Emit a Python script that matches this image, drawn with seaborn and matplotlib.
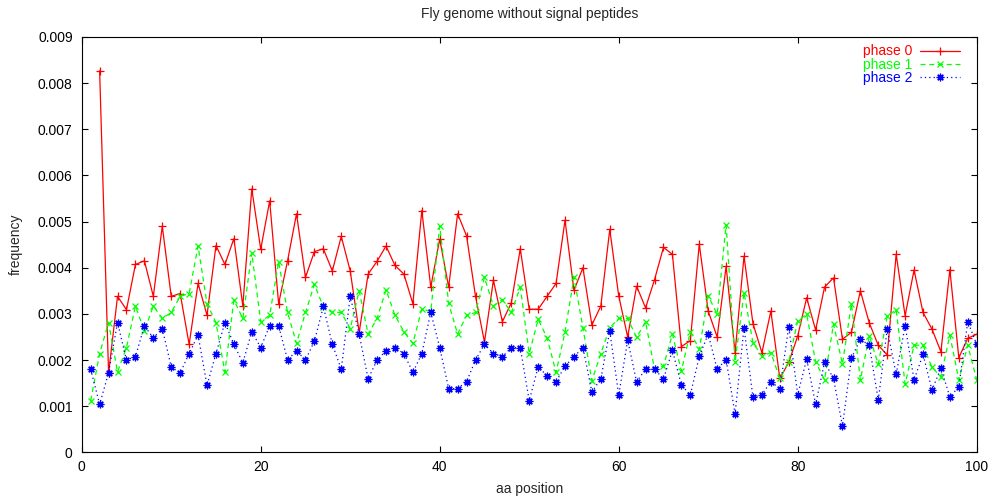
import numpy as np
import pandas as pd
import matplotlib
matplotlib.use("Agg")
import matplotlib.pyplot as plt
import seaborn as sns
from matplotlib.ticker import FuncFormatter, MultipleLocator

# amino-acid positions 1..100
positions = list(range(1, 101))

# codon-phase frequencies per position (phase 0 has no value at position 1)
phase0 = [np.nan, 0.00827, 0.00171, 0.00338, 0.00309, 0.00407, 0.00415, 0.00338, 0.00490, 0.00338,
          0.00344, 0.00234, 0.00366, 0.00297, 0.00448, 0.00407, 0.00463, 0.00317, 0.00571, 0.00440,
          0.00545, 0.00322, 0.00415, 0.00517, 0.00379, 0.00435, 0.00441, 0.00393, 0.00468, 0.00393,
          0.00260, 0.00386, 0.00414, 0.00447, 0.00405, 0.00386, 0.00322, 0.00524, 0.00358, 0.00462,
          0.00358, 0.00517, 0.00469, 0.00338, 0.00239, 0.00373, 0.00283, 0.00324, 0.00441, 0.00310,
          0.00310, 0.00338, 0.00366, 0.00503, 0.00351, 0.00400, 0.00276, 0.00317, 0.00483, 0.00339,
          0.00250, 0.00360, 0.00313, 0.00374, 0.00444, 0.00429, 0.00229, 0.00242, 0.00451, 0.00306,
          0.00250, 0.00403, 0.00216, 0.00425, 0.00279, 0.00216, 0.00306, 0.00160, 0.00195, 0.00252,
          0.00335, 0.00265, 0.00358, 0.00378, 0.00245, 0.00260, 0.00350, 0.00280, 0.00232, 0.00211,
          0.00429, 0.00296, 0.00395, 0.00303, 0.00267, 0.00218, 0.00396, 0.00205, 0.00247, 0.00256]

phase1 = [0.00112, 0.00214, 0.00281, 0.00174, 0.00227, 0.00317, 0.00263, 0.00317, 0.00290, 0.00303,
          0.00338, 0.00344, 0.00447, 0.00322, 0.00281, 0.00174, 0.00330, 0.00290, 0.00432, 0.00283,
          0.00297, 0.00413, 0.00303, 0.00236, 0.00303, 0.00364, 0.00315, 0.00303, 0.00303, 0.00268,
          0.00350, 0.00256, 0.00290, 0.00352, 0.00297, 0.00261, 0.00236, 0.00311, 0.00305, 0.00490,
          0.00323, 0.00256, 0.00297, 0.00303, 0.00379, 0.00317, 0.00331, 0.00303, 0.00358, 0.00214,
          0.00288, 0.00248, 0.00173, 0.00261, 0.00379, 0.00270, 0.00155, 0.00214, 0.00270, 0.00290,
          0.00290, 0.00249, 0.00283, 0.00180, 0.00187, 0.00256, 0.00176, 0.00261, 0.00223, 0.00339,
          0.00299, 0.00493, 0.00196, 0.00346, 0.00237, 0.00209, 0.00216, 0.00160, 0.00196, 0.00285,
          0.00299, 0.00196, 0.00157, 0.00278, 0.00191, 0.00322, 0.00157, 0.00252, 0.00191, 0.00295,
          0.00309, 0.00148, 0.00232, 0.00232, 0.00184, 0.00164, 0.00254, 0.00157, 0.00232, 0.00157]

phase2 = [0.00180, 0.00104, 0.00172, 0.00281, 0.00200, 0.00207, 0.00274, 0.00248, 0.00268, 0.00185,
          0.00172, 0.00214, 0.00254, 0.00145, 0.00214, 0.00281, 0.00234, 0.00194, 0.00261, 0.00227,
          0.00274, 0.00274, 0.00200, 0.00220, 0.00200, 0.00241, 0.00316, 0.00234, 0.00180, 0.00338,
          0.00256, 0.00159, 0.00200, 0.00220, 0.00227, 0.00214, 0.00173, 0.00214, 0.00303, 0.00227,
          0.00138, 0.00138, 0.00153, 0.00200, 0.00234, 0.00214, 0.00207, 0.00227, 0.00227, 0.00112,
          0.00185, 0.00166, 0.00153, 0.00187, 0.00207, 0.00227, 0.00131, 0.00159, 0.00263, 0.00124,
          0.00243, 0.00153, 0.00180, 0.00180, 0.00159, 0.00221, 0.00146, 0.00124, 0.00208, 0.00256,
          0.00180, 0.00201, 0.00083, 0.00270, 0.00119, 0.00125, 0.00153, 0.00138, 0.00272, 0.00125,
          0.00202, 0.00104, 0.00195, 0.00160, 0.00057, 0.00204, 0.00245, 0.00232, 0.00113, 0.00267,
          0.00169, 0.00274, 0.00157, 0.00212, 0.00135, 0.00182, 0.00120, 0.00142, 0.00283, 0.00234]

series_labels = ["phase 0", "phase 1", "phase 2"]
x_ticks = [0, 20, 40, 60, 80, 100]

sns.set_theme(style="white")
plt.rcParams["font.family"] = ["Liberation Sans", "DejaVu Sans"]

FS = 10

fig = plt.figure(figsize=(9.93, 5.0), dpi=100)
ax = fig.add_axes([0.0823, 0.0954, 0.9013, 0.8306])

styles = [
    dict(color="#ff0000", linestyle="-", marker="+", markersize=5.5),
    dict(color="#00ff00", linestyle=(0, (4, 3)), marker="x", markersize=4.5),
    dict(color="#0000ff", linestyle=(0, (1, 2.5)), marker=(8, 2, 0), markersize=5.5),
]

for values, label, st in zip([phase0, phase1, phase2], series_labels, styles):
    df = pd.DataFrame({"position": positions, "frequency": values})
    sns.lineplot(data=df, x="position", y="frequency", ax=ax, label=label,
                 color=st["color"], linestyle=st["linestyle"], linewidth=0.9,
                 marker=st["marker"], markersize=st["markersize"],
                 markeredgecolor=st["color"], markeredgewidth=0.9)

ax.set_xlim(0, 100)
ax.set_ylim(0, 0.009)
ax.set_xticks(x_ticks)
ax.yaxis.set_major_locator(MultipleLocator(0.001))
ax.yaxis.set_major_formatter(FuncFormatter(lambda v, _: "0" if abs(v) < 1e-12 else f"{v:.3f}"))

ax.tick_params(axis="both", which="major", direction="in", length=4.5, width=0.8,
               top=True, right=True, bottom=True, left=True,
               labelsize=FS, colors="black")
ax.tick_params(axis="x", pad=5.5)
ax.tick_params(axis="y", pad=6.5)

for sp in ax.spines.values():
    sp.set_visible(True)
    sp.set_color("black")
    sp.set_linewidth(0.8)

ax.set_title("Fly genome without signal peptides", fontsize=FS, pad=14)
ax.set_xlabel("aa position", fontsize=FS)
ax.set_ylabel("frequency", fontsize=FS)
ax.xaxis.set_label_coords(0.5, -0.072)
ax.yaxis.set_label_coords(-0.0656, 0.5)
ax.grid(False)

ax.legend(loc="upper right", bbox_to_anchor=(0.9813, 0.982), frameon=False,
          markerfirst=False, labelcolor="linecolor", fontsize=FS,
          handlelength=2.9, handletextpad=0.55, borderaxespad=0, borderpad=0,
          labelspacing=-0.05)

fig.savefig("out.png", dpi=100, facecolor="white")
